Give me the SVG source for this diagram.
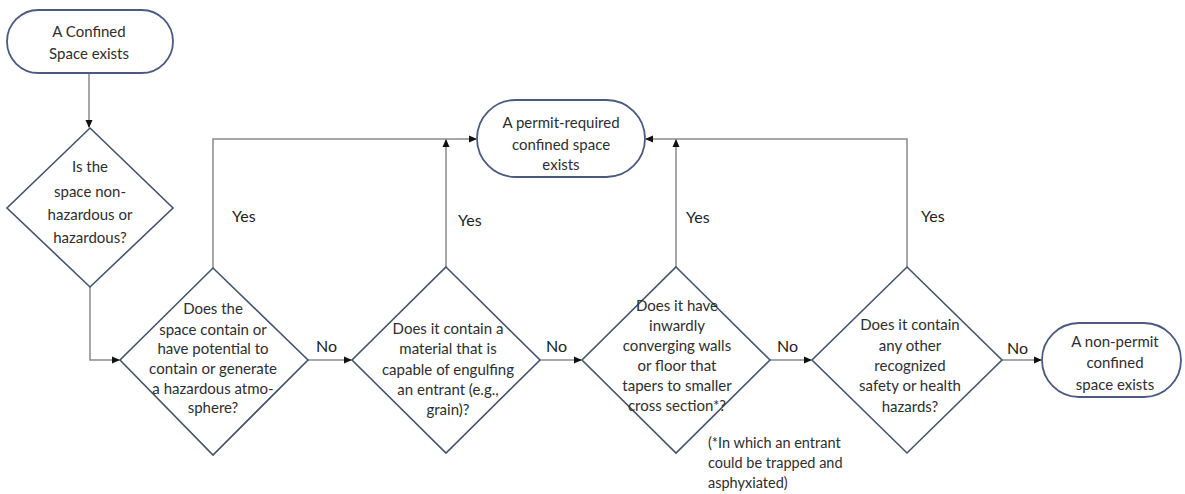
<svg xmlns="http://www.w3.org/2000/svg" width="1185" height="494" viewBox="0 0 1185 494">
<style>
.term{fill:#fff;stroke:#4a5a80;stroke-width:1.8}
.dia{fill:#fff;stroke:#44546a;stroke-width:1.6}
.t{font-family:Lato,"Open Sans",sans-serif;font-size:15px;fill:#2e2e2e;text-anchor:middle}
.l{font-family:Lato,"Open Sans",sans-serif;font-size:16px;fill:#222}
.fn{font-family:Lato,"Open Sans",sans-serif;font-size:14.5px;fill:#2e2e2e}
.c{fill:none;stroke:#8a8a8a;stroke-width:1.5}
</style>
<defs>
<marker id="ah" markerWidth="8" markerHeight="8" refX="7" refY="4" orient="auto" markerUnits="userSpaceOnUse">
<path d="M0,0.5 L8,4 L0,7.5 Z" fill="#111"/>
</marker>
</defs>
<rect width="1185" height="494" fill="#fff"/>
<g id="connectors">
<path class="c" d="M89,73 V127" marker-end="url(#ah)"/>
<path class="c" d="M90,287 V360 H119" marker-end="url(#ah)"/>
<path class="c" d="M308,360 H351" marker-end="url(#ah)"/>
<path class="c" d="M540,360 H581" marker-end="url(#ah)"/>
<path class="c" d="M770,360 H811" marker-end="url(#ah)"/>
<path class="c" d="M1002,360 H1041" marker-end="url(#ah)"/>
<path class="c" d="M213,268 V139 H476" marker-end="url(#ah)"/>
<path class="c" d="M446,267 V140" marker-end="url(#ah)"/>
<path class="c" d="M907,267 V139 H646" marker-end="url(#ah)"/>
<path class="c" d="M676,267 V140" marker-end="url(#ah)"/>
<text class="l" x="232" y="222">Yes</text>
<text class="l" x="458" y="226">Yes</text>
<text class="l" x="686" y="223">Yes</text>
<text class="l" x="921" y="222">Yes</text>
<text class="l" x="316" y="352">No</text>
<text class="l" x="546" y="352">No</text>
<text class="l" x="777" y="352">No</text>
<text class="l" x="1007" y="354">No</text>
</g>
<g id="start">
<rect class="term" x="7" y="10" width="166" height="63" rx="31.5"/>
<text class="t" x="89" y="37">A Confined</text>
<text class="t" x="89" y="59">Space exists</text>
</g>
<g id="q1">
<polygon class="dia" points="90,128 173,208 90,287 7,208"/>
<text class="t" x="90" y="172">Is the</text>
<text class="t" x="90" y="197">space non-</text>
<text class="t" x="90" y="220">hazardous or</text>
<text class="t" x="90" y="243">hazardous?</text>
</g>
<g id="q2">
<polygon class="dia" points="213,268 308,360 213,455 120,360"/>
<text class="t" x="213" y="314">Does the</text>
<text class="t" x="213" y="335">space contain or</text>
<text class="t" x="213" y="354">have potential to</text>
<text class="t" x="213" y="374">contain or generate</text>
<text class="t" x="213" y="394">a hazardous atmo-</text>
<text class="t" x="213" y="413">sphere?</text>
</g>
<g id="q3">
<polygon class="dia" points="446,267 540,360 446,453 352,360"/>
<text class="t" x="448" y="334">Does it contain a</text>
<text class="t" x="448" y="354">material that is</text>
<text class="t" x="448" y="375">capable of engulfing</text>
<text class="t" x="448" y="395">an entrant (e.g.,</text>
<text class="t" x="448" y="415">grain)?</text>
</g>
<g id="q4">
<polygon class="dia" points="676,267 770,360 676,453 582,360"/>
<text class="t" x="677" y="311">Does it have</text>
<text class="t" x="677" y="331">inwardly</text>
<text class="t" x="677" y="351">converging walls</text>
<text class="t" x="677" y="371">or floor that</text>
<text class="t" x="677" y="391">tapers to smaller</text>
<text class="t" x="677" y="411">cross section*?</text>
</g>
<g id="footnote">
<text class="fn" x="708" y="448">(*In which an entrant</text>
<text class="fn" x="708" y="468">could be trapped and</text>
<text class="fn" x="708" y="488">asphyxiated)</text>
</g>
<g id="q5">
<polygon class="dia" points="907,267 1002,360 907,453 812,360"/>
<text class="t" x="910" y="330">Does it contain</text>
<text class="t" x="910" y="351">any other</text>
<text class="t" x="910" y="371">recognized</text>
<text class="t" x="910" y="391">safety or health</text>
<text class="t" x="910" y="412">hazards?</text>
</g>
<g id="permit">
<rect class="term" x="477" y="100" width="168" height="77" rx="38.5"/>
<text class="t" x="561" y="128">A permit-required</text>
<text class="t" x="561" y="150">confined space</text>
<text class="t" x="561" y="170">exists</text>
</g>
<g id="nonpermit">
<rect class="term" x="1042" y="323" width="139" height="74" rx="37"/>
<text class="t" x="1115" y="347">A non-permit</text>
<text class="t" x="1115" y="368">confined</text>
<text class="t" x="1115" y="390">space exists</text>
</g>
</svg>
